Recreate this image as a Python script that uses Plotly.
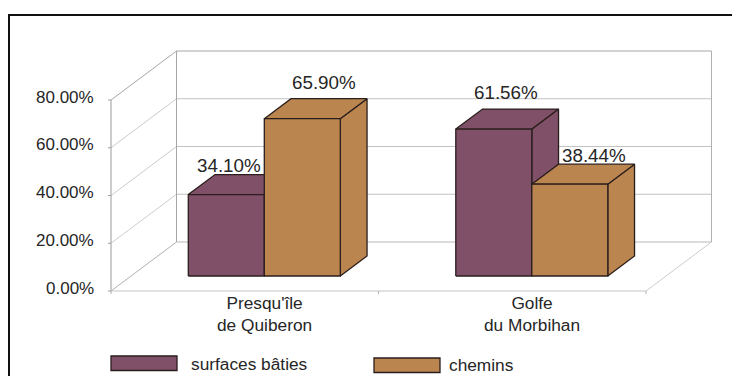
import plotly.graph_objects as go

categories = ["Presqu'île<br>de Quiberon", "Golfe<br>du Morbihan"]
surfaces_baties = [34.10, 61.56]
chemins = [65.90, 38.44]
y_ticks = [0, 20, 40, 60, 80]
series_names = ["surfaces bâties", "chemins"]

PURPLE = "#7f5068"
TAN = "#bb8550"
EDGE = "#2a1e1c"
TEXT = "#262626"
FONT = "Liberation Sans, Arial, sans-serif"

W, H = 732, 376
X0_PX, Y0_PX = 111, 291        # where category 0 / value 0 sit on the front plane
PX_CAT, PX_PCT = 267.5, 2.3875  # pixels per category, per percent
DX = 65.5 / PX_CAT             # floor depth expressed in axis units
DY = 49 / PX_PCT
BAR_W = 76 / PX_CAT
BAR_SHIFT = -0.5 / PX_CAT
D_FRONT, D_BACK = 15 / 49, 35 / 49
YMAX = y_ticks[-1]
NCAT = len(categories)


def proj(x, v, d=0.0):
    return x + d * DX, v + d * DY


def line(points, color, width=1.0):
    xs, ys = zip(*points)
    return go.Scatter(x=xs, y=ys, mode="lines", line=dict(color=color, width=width),
                      hoverinfo="skip", showlegend=False)


def face(points, color):
    xs, ys = zip(*(points + points[:1]))
    return go.Scatter(x=xs, y=ys, mode="lines", fill="toself", fillcolor=color,
                      line=dict(color=EDGE, width=1.3), hoverinfo="skip", showlegend=False)


fig = go.Figure()

# walls and floor
for t in y_ticks:
    c = "#a6a6a6" if t == YMAX else ("#b0b0b0" if t == 0 else "#cccccc")
    c2 = "#a6a6a6" if t == YMAX else ("#b8b8b8" if t == 0 else "#c2c2c2")
    fig.add_trace(line([proj(0, t), proj(0, t, 1)], c))
    fig.add_trace(line([proj(0, t, 1), proj(NCAT, t, 1)], c2))
fig.add_trace(line([proj(0, 0), proj(0, YMAX)], "#9a9a9a"))
fig.add_trace(line([proj(0, 0, 1), proj(0, YMAX, 1)], "#a6a6a6"))
fig.add_trace(line([proj(NCAT, 0, 1), proj(NCAT, YMAX, 1)], "#b0b0b0"))
fig.add_trace(line([proj(0, 0), proj(NCAT, 0)], "#c4c4c4"))
fig.add_trace(line([proj(NCAT, 0), proj(NCAT, 0, 1)], "#cccccc"))

# tick stubs
for t in y_ticks:
    fig.add_trace(line([(-3 / PX_CAT, t), (0, t)], "#a0a0a0"))
for i in range(NCAT + 1):
    fig.add_trace(line([(i, 0), (i, -3 / PX_PCT)], "#b0b0b0"))

# bars
for i in range(NCAT):
    for s, (vals, color) in enumerate(((surfaces_baties, PURPLE), (chemins, TAN))):
        left = i + 0.5 + (s - 1) * BAR_W + BAR_SHIFT
        right = left + BAR_W
        v = vals[i]
        fig.add_trace(face([proj(right, 0, D_FRONT), proj(right, 0, D_BACK),
                            proj(right, v, D_BACK), proj(right, v, D_FRONT)], color))
        fig.add_trace(face([proj(left, v, D_FRONT), proj(left, v, D_BACK),
                            proj(right, v, D_BACK), proj(right, v, D_FRONT)], color))
        fig.add_trace(face([proj(left, 0, D_FRONT), proj(right, 0, D_FRONT),
                            proj(right, v, D_FRONT), proj(left, v, D_FRONT)], color))

annotations = []


def note(x, y, text, size, xanchor="center", xshift=0, yshift=0, xref="x", yref="y"):
    annotations.append(dict(x=x, y=y, text=text, showarrow=False, xanchor=xanchor, yanchor="middle",
                            xref=xref, yref=yref, xshift=xshift, yshift=yshift,
                            font=dict(family=FONT, size=size, color=TEXT)))


# value labels
label_offsets = {(0, 0): (3, 29), (0, 1): (22, 36), (1, 0): (12, 37), (1, 1): (24, 29)}
for i in range(NCAT):
    for s, vals in enumerate((surfaces_baties, chemins)):
        left = i + 0.5 + (s - 1) * BAR_W + BAR_SHIFT
        x, y = proj(left + BAR_W / 2, vals[i], D_FRONT)
        dx, dy = label_offsets[(i, s)]
        note(x, y, f"{vals[i]:.2f}%", 18.8, xshift=dx, yshift=dy)

# tick labels
for t in y_ticks:
    note(0, t, f"{t:.2f}%", 17, xanchor="right", xshift=-15, yshift=3)
for i, c in enumerate(categories):
    note(i + 0.5, 0, c, 17.3, xshift=20, yshift=-23)

# legend
legend = [(111, 177, 356, 370.5, 189, 363.5, PURPLE), (374, 440, 358, 372.5, 447, 365, TAN)]
shapes = []
for name, (x0, x1, y0, y1, tx, ty, col) in zip(series_names, legend):
    shapes.append(dict(type="rect", xref="paper", yref="paper", x0=x0 / W, x1=x1 / W,
                       y0=1 - y0 / H, y1=1 - y1 / H, fillcolor=col, line=dict(color=EDGE, width=1.3)))
    note(tx / W, 1 - ty / H, name, 17.3, xanchor="left", xref="paper", yref="paper")

# outer frame
shapes.append(dict(type="line", xref="paper", yref="paper", x0=8 / W, x1=1, y0=1 - 15 / H, y1=1 - 15 / H,
                   line=dict(color="#111111", width=2)))
shapes.append(dict(type="line", xref="paper", yref="paper", x0=9 / W, x1=9 / W, y0=0, y1=1 - 15 / H,
                   line=dict(color="#111111", width=2)))

fig.update_layout(
    width=W, height=H, margin=dict(l=0, r=0, t=0, b=0),
    paper_bgcolor="white", plot_bgcolor="white", showlegend=False,
    xaxis=dict(range=[-X0_PX / PX_CAT, (W - X0_PX) / PX_CAT], visible=False, fixedrange=True),
    yaxis=dict(range=[-(H - Y0_PX) / PX_PCT, Y0_PX / PX_PCT], visible=False, fixedrange=True),
    annotations=annotations, shapes=shapes,
)
fig.write_html("out.html", config={"displayModeBar": False},
               post_script="document.body.style.margin='0';document.body.style.overflow='hidden';")
